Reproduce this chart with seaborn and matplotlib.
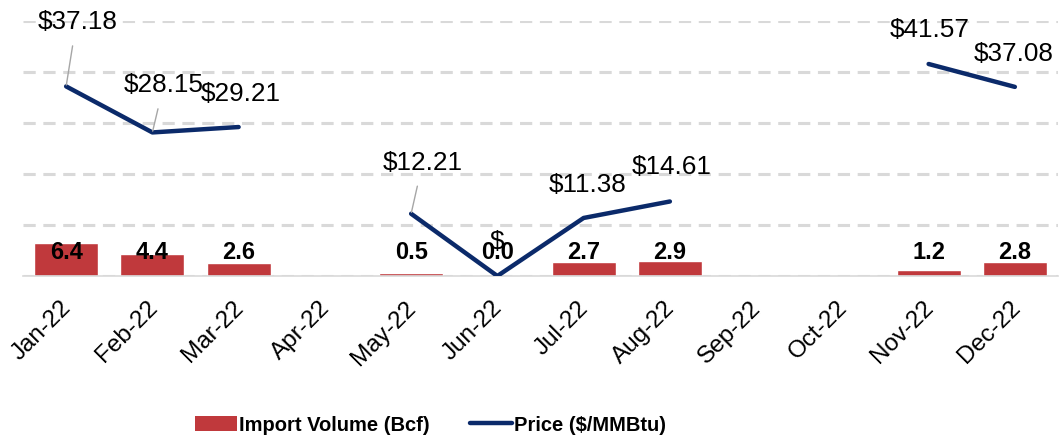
import numpy as np
import pandas as pd
import seaborn as sns
import matplotlib.pyplot as plt
import matplotlib.transforms as mtransforms
from matplotlib.patches import Patch
from matplotlib.lines import Line2D

months = ["Jan-22", "Feb-22", "Mar-22", "Apr-22", "May-22", "Jun-22",
          "Jul-22", "Aug-22", "Sep-22", "Oct-22", "Nov-22", "Dec-22"]
volume = [6.4, 4.4, 2.6, np.nan, 0.5, 0.0, 2.7, 2.9, np.nan, np.nan, 1.2, 2.8]
price = [37.18, 28.15, 29.21, np.nan, 12.21, 0.0, 11.38, 14.61, np.nan, np.nan, 41.57, 37.08]
price_labels = ["$37.18", "$28.15", "$29.21", "", "$12.21", "$",
                "$11.38", "$14.61", "", "", "$41.57", "$37.08"]

# label offsets in pixels (dx, dy) and whether a leader line is drawn
label_offsets = {0: (11.5, 64, True), 1: (11.5, 47, True), 2: (2, 33.5, False),
                 4: (12, 51, True), 5: (0, 34.5, False), 6: (3.5, 33, False),
                 7: (2, 34, False), 10: (1, 34, False), 11: (-1.5, 33, False)}

BAR_COLOR = "#C0393C"
LINE_COLOR = "#0B2A6A"
GRID_COLOR = "#D9D9D9"

sns.set_style("white")
plt.rcParams["font.family"] = ["Liberation Sans", "DejaVu Sans"]
plt.rcParams["text.color"] = "black"

df = pd.DataFrame({"month": months, "pos": np.arange(len(months)),
                   "volume": volume, "price": price})
# segment id so the line breaks where price is missing
df["seg"] = df["price"].isna().cumsum()

fig = plt.figure(figsize=(10.63, 4.36), dpi=100)
ax = fig.add_axes([23 / 1063, 1 - 276 / 436, (1058 - 23) / 1063, (276 - 21) / 436])

sns.barplot(data=df, x="month", y="volume", order=months, color=BAR_COLOR,
            width=0.74, saturation=1, ax=ax, zorder=2)
line_df = df.dropna(subset=["price"])
sns.lineplot(data=line_df, x="pos", y="price", units="seg", estimator=None,
             color=LINE_COLOR, lw=3.2, ax=ax, zorder=3, legend=False)

ax.set_xlim(-0.5, len(months) - 0.5)
ax.set_ylim(0, 50)
ax.set_yticks(np.arange(0, 51, 10))
ax.set_yticklabels([])
ax.yaxis.grid(True, color=GRID_COLOR, lw=2.2, ls=(0, (4, 2.5)), zorder=0)
ax.tick_params(axis="y", length=0)
ax.set_xlabel("")
ax.set_ylabel("")
for s in ["top", "right", "left"]:
    ax.spines[s].set_visible(False)
ax.spines["bottom"].set_color(GRID_COLOR)
ax.spines["bottom"].set_linewidth(1.2)

ax.set_xticks(np.arange(len(months)))
ax.set_xticks(np.arange(len(months) + 1) - 0.5, minor=True)
ax.tick_params(axis="x", which="major", length=0, pad=15, labelcolor="black")
ax.tick_params(axis="x", which="minor", length=7, width=1.2, color=GRID_COLOR)
ax.set_xticklabels(months, rotation=45, ha="right", va="top",
                   rotation_mode="anchor", fontsize=17.5)
shift = mtransforms.ScaledTranslation(-6 / 100, 0, fig.dpi_scale_trans)
for lbl in ax.get_xticklabels():
    lbl.set_transform(lbl.get_transform() + shift)

# bar value labels
for i, v in enumerate(volume):
    if not np.isnan(v):
        ax.text(i, 4.6, f"{v:.1f}", ha="center", va="center",
                fontsize=17, fontweight="bold", zorder=4)

# price labels
for i, (p, lab) in enumerate(zip(price, price_labels)):
    if np.isnan(p) or i not in label_offsets:
        continue
    dx, dy, leader = label_offsets[i]
    kw = {}
    if leader:
        kw["arrowprops"] = dict(arrowstyle="-", color="#A6A6A6", lw=1,
                                shrinkA=6, shrinkB=1, relpos=(0.46, 0))
    ax.annotate(lab, xy=(i, p), xytext=(dx * 0.72, dy * 0.72),
                textcoords="offset points", ha="center", va="center",
                fontsize=18.8, annotation_clip=False, zorder=5, **kw)

handles = [Patch(facecolor=BAR_COLOR, edgecolor="none"),
           Line2D([0], [0], color=LINE_COLOR, lw=3.2)]
fig.legend(handles, ["Import Volume (Bcf)", "Price ($/MMBtu)"], loc="center",
           bbox_to_anchor=(0.405, 0.025), ncol=2, frameon=False,
           prop={"weight": "bold", "size": 14.5}, handlelength=2.1,
           handleheight=0.75, columnspacing=2.0, handletextpad=0.1)

fig.savefig("out.png", dpi=100)
